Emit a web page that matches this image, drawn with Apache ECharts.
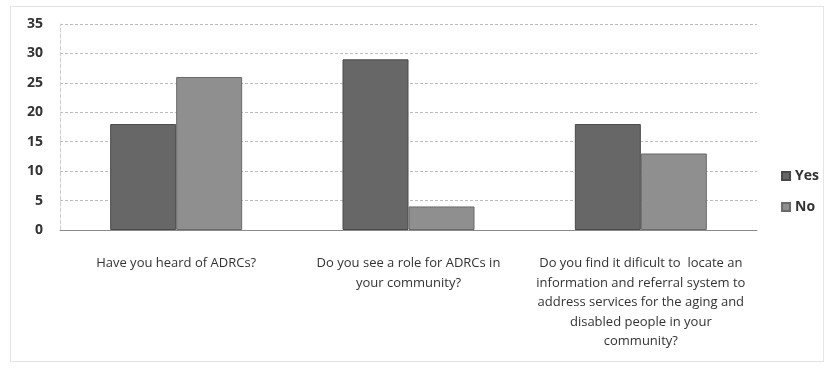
<!DOCTYPE html>
<html>
<head>
<meta charset="utf-8">
<script src="https://cdn.jsdelivr.net/npm/echarts@6/dist/echarts.min.js"></script>
<style>
  html, body { margin: 0; padding: 0; background: #fff; }
  #chart { width: 828px; height: 369px; }
  #frame { position: absolute; left: 10px; top: 6px; width: 814px; height: 356px;
           border: 1px solid #e4e4e4; box-sizing: border-box; pointer-events: none; }
</style>
</head>
<body>
<div id="chart"></div>
<div id="frame"></div>
<script>
// Survey questions (category axis)
const questions = [
  'Have you heard of ADRCs?',
  'Do you see a role for ADRCs in\nyour community?',
  'Do you find it dificult to  locate an\ninformation and referral system to\naddress services for the aging and\ndisabled people in your\ncommunity?'
];
// Responses per question
const yesCounts = [18, 29, 18];
const noCounts = [26, 4, 13];
// Value axis ticks
const yMin = 0, yMax = 35, yStep = 5;

const chart = echarts.init(document.getElementById('chart'));
const font = '"Open Sans", sans-serif';

chart.setOption({
  animation: false,
  grid: { left: 60, right: 71, top: 24, bottom: 139 },
  legend: {
    orient: 'vertical',
    right: 4,
    top: 164,
    itemWidth: 8,
    itemHeight: 8,
    itemGap: 17,
    icon: 'rect',
    textStyle: { fontFamily: font, fontSize: 14, fontWeight: 'bold', color: '#333' },
    data: ['Yes', 'No']
  },
  xAxis: {
    type: 'category',
    data: questions,
    axisTick: { show: false },
    axisLine: { lineStyle: { color: '#8a8a8a', width: 1 } },
    axisLabel: {
      interval: 0,
      margin: 24,
      fontFamily: font,
      fontSize: 13,
      lineHeight: 19.5,
      color: '#333',
      align: 'center'
    }
  },
  yAxis: {
    type: 'value',
    min: yMin, max: yMax, interval: yStep,
    axisLine: { show: true, lineStyle: { color: '#cfcfcf', type: 'dashed' } },
    axisTick: { show: false },
    splitLine: { lineStyle: { color: '#bdbdbd', type: [3, 2], width: 1 } },
    axisLabel: {
      margin: 17,
      fontFamily: font,
      fontSize: 14,
      fontWeight: 'bold',
      color: '#333'
    }
  },
  series: [
    {
      name: 'Yes', type: 'bar', data: yesCounts,
      barWidth: 66, barGap: '0%',
      itemStyle: { color: '#676767', borderColor: '#4a4a4a', borderWidth: 1 }
    },
    {
      name: 'No', type: 'bar', data: noCounts,
      barWidth: 66,
      itemStyle: { color: '#8f8f8f', borderColor: '#6a6a6a', borderWidth: 1 }
    }
  ]
});
</script>
</body>
</html>
